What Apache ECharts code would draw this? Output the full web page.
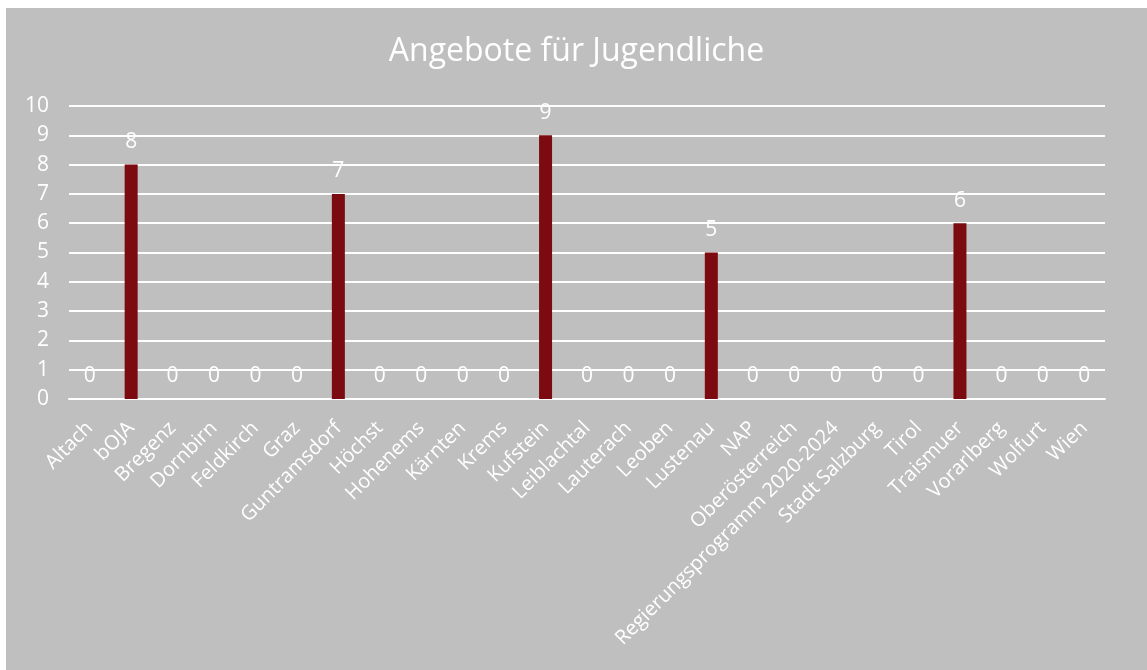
<!DOCTYPE html>
<html style="height: 100%">
	<head>
		<meta charset="utf-8">
	</head>
	<body style="height: 100%; margin: 0; background: #ffffff">
		<div id="container" style="position: absolute; left: 6px; top: 8px; width: 1141px; height: 662px; background: #bfbfbf"></div>

		<script type="text/javascript" src="https://cdn.jsdelivr.net/npm/echarts@6/dist/echarts.min.js"></script>
		<script type="text/javascript">
			var categories = ['Altach', 'bOJA', 'Bregenz', 'Dornbirn', 'Feldkirch', 'Graz', 'Guntramsdorf',
				'Höchst', 'Hohenems', 'Kärnten', 'Krems', 'Kufstein', 'Leiblachtal', 'Lauterach', 'Leoben',
				'Lustenau', 'NAP', 'Oberösterreich', 'Regierungsprogramm 2020-2024', 'Stadt Salzburg', 'Tirol',
				'Traismuer', 'Vorarlberg', 'Wolfurt', 'Wien'];
			var values = [0, 8, 0, 0, 0, 0, 7, 0, 0, 0, 0, 9, 0, 0, 0, 5, 0, 0, 0, 0, 0, 6, 0, 0, 0];

			var dom = document.getElementById("container");
			var myChart = echarts.init(dom);
			var font = '"Open Sans", "Noto Sans", sans-serif';

			var option = {
				backgroundColor: '#bfbfbf',
				animation: false,
				title: {
					text: 'Angebote für Jugendliche',
					left: 'center',
					top: 23,
					textStyle: {
						color: '#ffffff',
						fontFamily: font,
						fontSize: 32,
						fontWeight: 'normal'
					}
				},
				grid: {
					left: 63,
					right: 42,
					top: 98,
					bottom: 271
				},
				xAxis: {
					type: 'category',
					data: categories,
					axisLine: { show: true, lineStyle: { color: '#ffffff', width: 2 } },
					axisTick: { show: false },
					axisLabel: {
						rotate: 45,
						interval: 0,
						margin: 26,
						color: '#ffffff',
						fontFamily: font,
						fontSize: 20
					}
				},
				yAxis: {
					type: 'value',
					min: 0,
					max: 10,
					interval: 1,
					axisLine: { show: false },
					axisTick: { show: false },
					axisLabel: {
						margin: 20,
						color: '#ffffff',
						fontFamily: font,
						fontSize: 21
					},
					splitLine: { lineStyle: { color: '#ffffff', width: 2 } }
				},
				series: [{
					type: 'bar',
					data: values,
					barWidth: 13,
					itemStyle: { color: '#7b0b10' },
					label: {
						show: true,
						position: 'top',
						distance: 12,
						color: '#ffffff',
						fontFamily: font,
						fontSize: 21
					}
				}]
			};

			myChart.setOption(option);
		</script>
	</body>
</html>
